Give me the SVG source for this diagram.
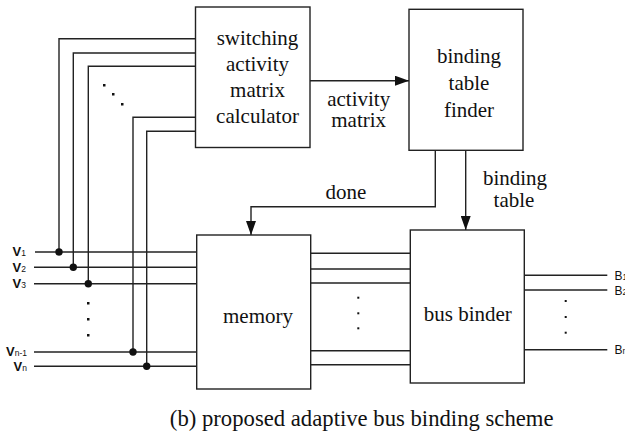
<svg xmlns="http://www.w3.org/2000/svg" width="625" height="441" viewBox="0 0 625 441">
<style>
.box{fill:#fff;stroke:#222;stroke-width:1.4}
.ln{fill:none;stroke:#222;stroke-width:1.4}
.t{font-family:"Liberation Serif","Times New Roman",serif;font-size:21px;fill:#111;text-anchor:middle}
.s{font-family:"Liberation Sans",Arial,sans-serif;font-size:13px;font-weight:bold;fill:#111}
.b{font-family:"Liberation Sans",Arial,sans-serif;font-size:12px;fill:#111}
.sub{font-size:8.5px;font-weight:normal}
.dot{fill:#111}
</style>
<defs>
<marker id="ah" markerWidth="14" markerHeight="10" refX="14" refY="5" orient="auto" markerUnits="userSpaceOnUse">
<path d="M0,0 L14,5 L0,10 Z" fill="#111"/>
</marker>
</defs>
<rect width="625" height="441" fill="#fff"/>
<g id="connectors">
<path class="ln" d="M195.5,38.7 H59 V252"/>
<path class="ln" d="M195.5,53 H73.3 V267.3"/>
<path class="ln" d="M195.5,66.3 H88.3 V283.7"/>
<path class="ln" d="M195.5,117.3 H133 V352"/>
<path class="ln" d="M195.5,131.3 H146.7 V366.3"/>
<path class="ln" d="M35,252 H196.7"/>
<path class="ln" d="M34,267.3 H196.7"/>
<path class="ln" d="M34,283.7 H196.7"/>
<path class="ln" d="M34,352 H196.7"/>
<path class="ln" d="M34,366.3 H196.7"/>
<circle class="dot" cx="59" cy="252" r="3.7"/>
<circle class="dot" cx="73.3" cy="267.3" r="3.7"/>
<circle class="dot" cx="88.3" cy="283.7" r="3.7"/>
<circle class="dot" cx="133" cy="352" r="3.7"/>
<circle class="dot" cx="146.7" cy="366.3" r="3.7"/>
<rect class="dot" x="103" y="84" width="2.5" height="2.5"/>
<rect class="dot" x="112" y="93" width="2.5" height="2.5"/>
<rect class="dot" x="121" y="103" width="2.5" height="2.5"/>
<rect class="dot" x="87" y="302" width="2.5" height="2.5"/>
<rect class="dot" x="87" y="318" width="2.5" height="2.5"/>
<rect class="dot" x="87" y="334" width="2.5" height="2.5"/>
<path class="ln" d="M310,80.7 H409" marker-end="url(#ah)"/>
<path class="ln" d="M435.3,150.3 V206.7 H251 V235" marker-end="url(#ah)"/>
<path class="ln" d="M465.7,150.3 V230" marker-end="url(#ah)"/>
<path class="ln" d="M310.7,253.3 H410.3"/>
<path class="ln" d="M310.7,269 H410.3"/>
<path class="ln" d="M310.7,283 H410.3"/>
<path class="ln" d="M310.7,350.7 H410.3"/>
<path class="ln" d="M310.7,364.7 H410.3"/>
<rect class="dot" x="357.3" y="296.7" width="2" height="2"/>
<rect class="dot" x="357.3" y="312.3" width="2" height="2"/>
<rect class="dot" x="357.3" y="327.3" width="2" height="2"/>
<path class="ln" d="M524.3,275.3 H607.3"/>
<path class="ln" d="M524.3,290 H607.3"/>
<path class="ln" d="M524.3,349.7 H607.3"/>
<rect class="dot" x="564.7" y="300" width="2" height="2"/>
<rect class="dot" x="564.7" y="316" width="2" height="2"/>
<rect class="dot" x="564.7" y="331.7" width="2" height="2"/>
<text class="t" x="358.7" y="105.5">activity</text>
<text class="t" x="358.7" y="127">matrix</text>
<text class="t" x="346" y="199">done</text>
<text class="t" x="515" y="185">binding</text>
<text class="t" x="514" y="207">table</text>
</g>
<g id="calculator">
<rect class="box" x="195.5" y="7" width="114.5" height="140.5"/>
<text class="t" x="257.5" y="45">switching</text>
<text class="t" x="257.5" y="71">activity</text>
<text class="t" x="257.5" y="97">matrix</text>
<text class="t" x="257.5" y="123">calculator</text>
</g>
<g id="finder">
<rect class="box" x="409" y="9.3" width="114" height="141"/>
<text class="t" x="469" y="63">binding</text>
<text class="t" x="469" y="90">table</text>
<text class="t" x="469" y="117">finder</text>
</g>
<g id="memory">
<rect class="box" x="196.7" y="235" width="114" height="154"/>
<text class="t" x="258" y="323">memory</text>
</g>
<g id="binder">
<rect class="box" x="410.3" y="230" width="114" height="153"/>
<text class="t" x="467.8" y="321">bus binder</text>
</g>
<g id="inputs">
<text class="s" x="26" y="256" text-anchor="end">V<tspan class="sub">1</tspan></text>
<text class="s" x="26" y="271.5" text-anchor="end">V<tspan class="sub">2</tspan></text>
<text class="s" x="26" y="288" text-anchor="end">V<tspan class="sub">3</tspan></text>
<text class="s" x="27" y="356" text-anchor="end">V<tspan class="sub">n-1</tspan></text>
<text class="s" x="27" y="370.5" text-anchor="end">V<tspan class="sub">n</tspan></text>
</g>
<g id="outputs">
<text class="b" x="614.5" y="279.5">B<tspan class="sub">1</tspan></text>
<text class="b" x="614.5" y="294.5">B<tspan class="sub">2</tspan></text>
<text class="b" x="614.5" y="354">B<tspan class="sub">m</tspan></text>
</g>
<text class="t" x="361.7" y="426" style="font-size:22.7px">(b) proposed adaptive bus binding scheme</text>
</svg>
